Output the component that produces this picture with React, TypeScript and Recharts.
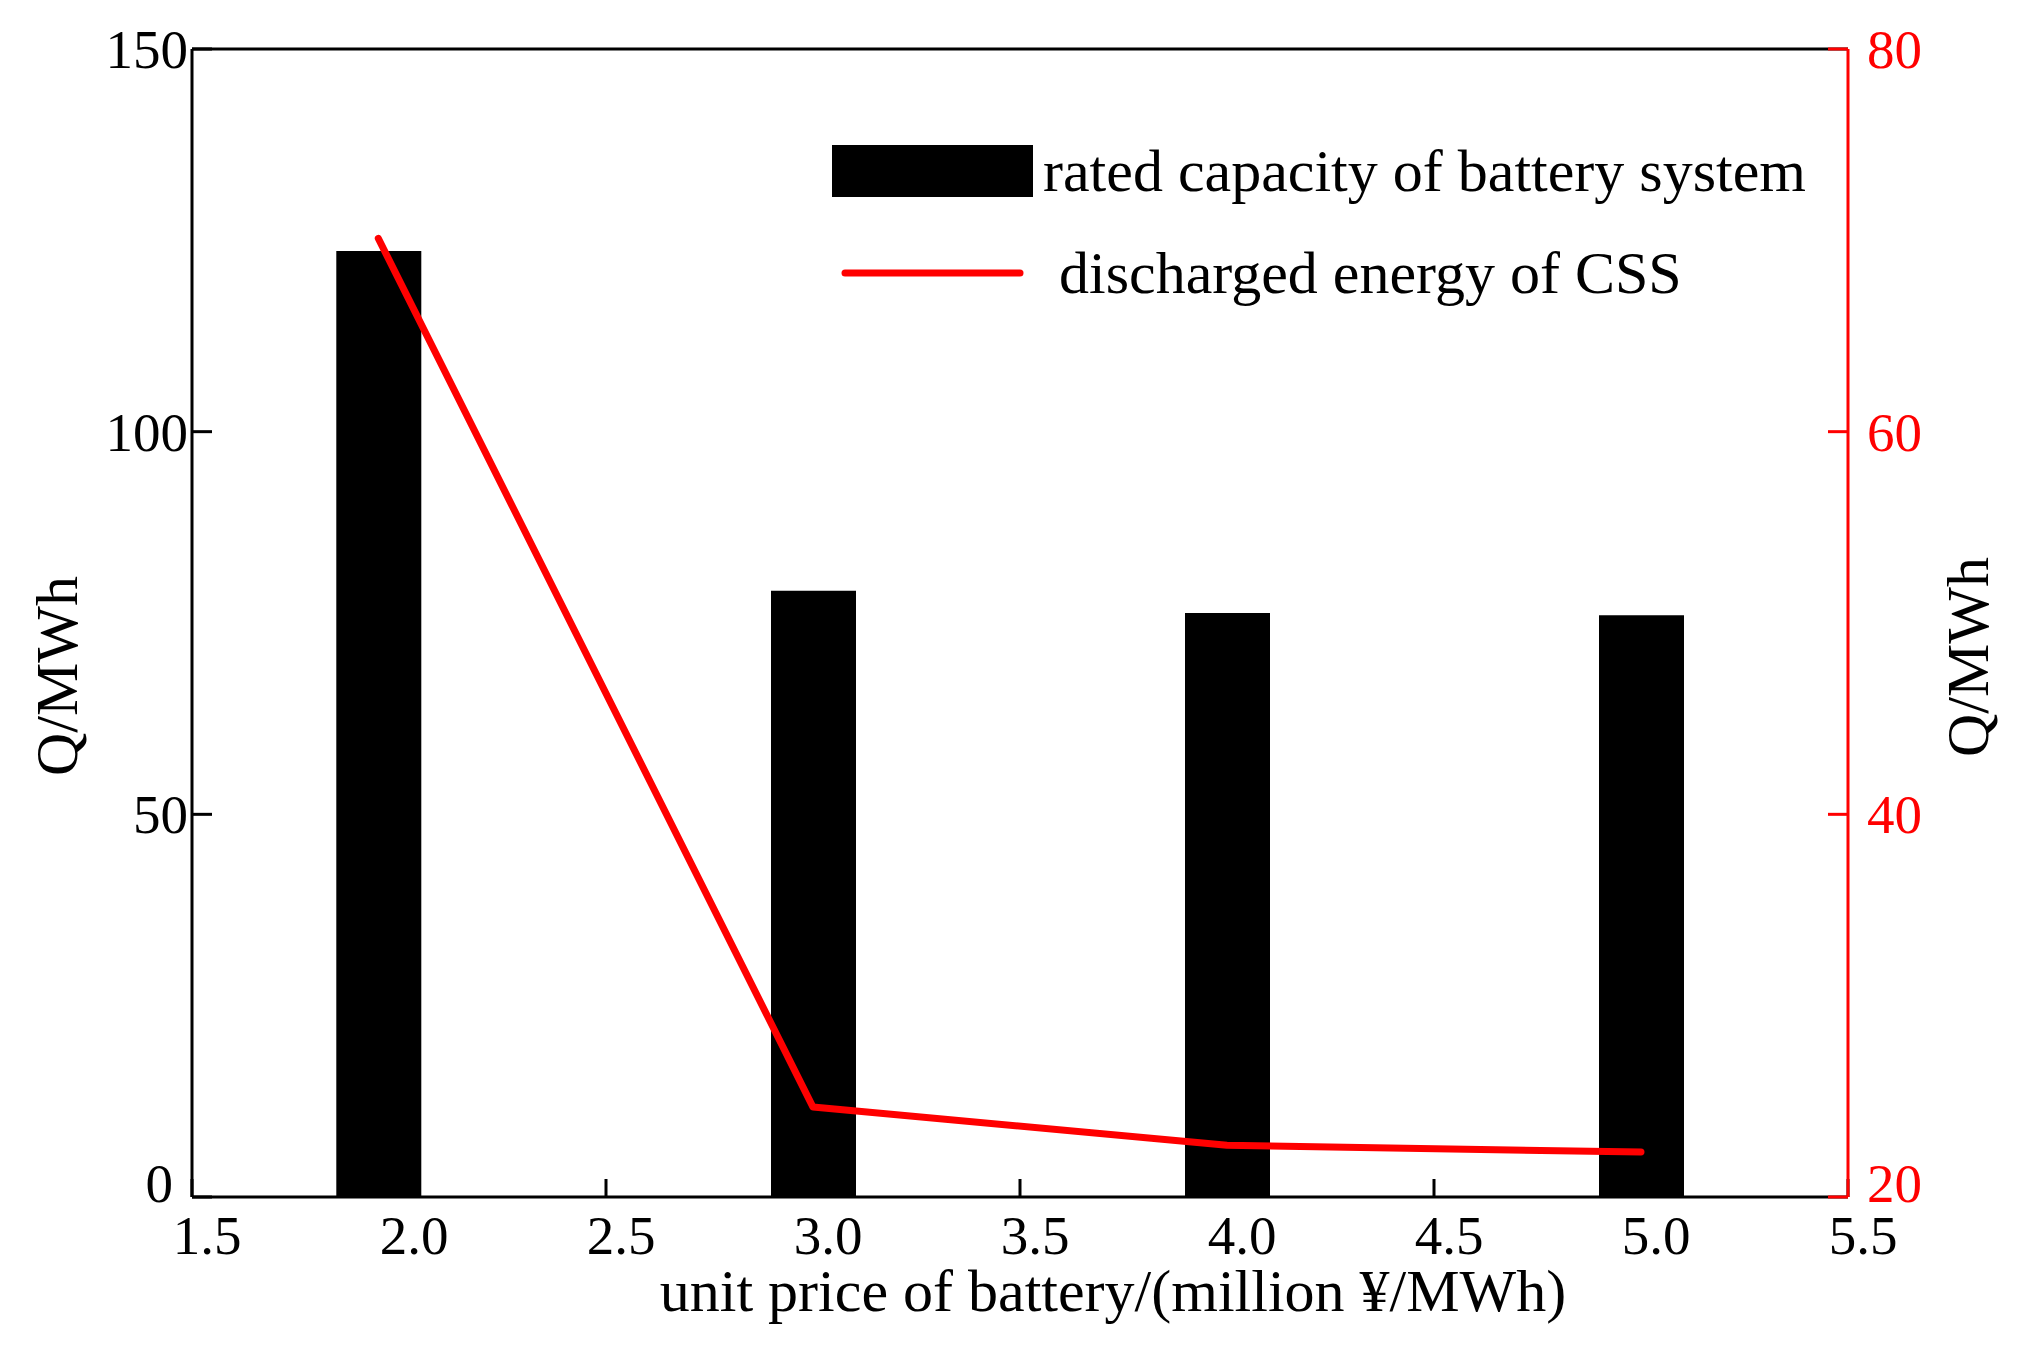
import React from "react";
import {
  Bar,
  ComposedChart,
  Legend,
  Line,
  XAxis,
  YAxis,
} from "recharts";

// unit price of battery (million ¥/MWh)
const prices = [1.95, 3.0, 4.0, 5.0];
// rated capacity of battery system, MWh (left axis)
const ratedCapacity = [123.6, 79.2, 76.3, 76.0];
// discharged energy of CSS, MWh (right axis)
const dischargedEnergy = [70.1, 24.7, 22.7, 22.35];

const xTicks = [1.5, 2.0, 2.5, 3.0, 3.5, 4.0, 4.5, 5.0, 5.5];
const leftTicks = [0, 50, 100, 150];
const rightTicks = [20, 40, 60, 80];

const data = prices.map((price, i) => ({
  price,
  capacity: ratedCapacity[i],
  energy: dischargedEnergy[i],
}));

const FONT = "'Liberation Serif', 'DejaVu Serif', serif";
const RED = "#ff0000";

type TickProps = { x: number; y: number; payload: { value: number } };

function makeTick(
  fill: string,
  anchor: "start" | "middle" | "end",
  dx: number,
  dy: number,
  fmt: (v: number) => string,
  lowest?: number,
  lowestDx = 0,
) {
  return (props: TickProps) => {
    const { x, y, payload } = props;
    // matlab nudges the lowest y label up (and sideways) a bit
    const isLowest = lowest !== undefined && payload.value === lowest;
    return (
      <text
        x={x + dx + (isLowest ? lowestDx : 0)}
        y={y + dy + (isLowest ? -14 : 0)}
        fill={fill}
        textAnchor={anchor}
        fontSize={55}
        fontFamily={FONT}
      >
        {fmt(payload.value)}
      </text>
    );
  };
}

function renderLegend({ payload }: any) {
  // bar patch first, then the line, like the original figure
  const items = [...(payload || [])].sort(
    (a: any, b: any) => (a.type === "line" ? 1 : 0) - (b.type === "line" ? 1 : 0),
  );
  return (
    <div style={{ fontFamily: FONT, fontSize: 60, lineHeight: 1, color: "#000" }}>
      {items.map((entry: any, i: number) => {
        const isLine = entry.type === "line";
        return (
          <div
            key={entry.value}
            style={{
              display: "flex",
              alignItems: "center",
              height: 60,
              marginTop: i === 0 ? 0 : 42,
              whiteSpace: "nowrap",
            }}
          >
            {isLine ? (
              <svg width={227} height={60}>
                <line x1={13} y1={30} x2={188} y2={30} stroke={entry.color} strokeWidth={7} strokeLinecap="round" />
              </svg>
            ) : (
              <svg width={211} height={60}>
                <rect x={0} y={4} width={201} height={52} fill={entry.color} />
              </svg>
            )}
            <span>{entry.value}</span>
          </div>
        );
      })}
    </div>
  );
}

export default function App() {
  return (
    <div style={{ position: "absolute", left: 0, top: 0, width: 2019, height: 1349, background: "#fff" }}>
      <ComposedChart
        width={2019}
        height={1349}
        data={data}
        margin={{ top: 48, right: 51, bottom: 52, left: 62 }}
      >
        <XAxis
          xAxisId="top"
          orientation="top"
          type="number"
          dataKey="price"
          domain={[1.5, 5.5]}
          ticks={xTicks}
          height={1}
          tick={false}
          tickSize={-18}
          axisLine={{ stroke: "#000", strokeWidth: 3 }}
          tickLine={{ stroke: "#000", strokeWidth: 3 }}
        />
        <XAxis
          type="number"
          dataKey="price"
          domain={[1.5, 5.5]}
          ticks={xTicks}
          height={100}
          tickSize={-18}
          tickMargin={18}
          axisLine={{ stroke: "#000", strokeWidth: 3 }}
          tickLine={{ stroke: "#000", strokeWidth: 3 }}
          tick={makeTick("#000", "middle", 15, 57, (v) => v.toFixed(1))}
          label={() => (
            <text x={1113} y={1311} textAnchor="middle" fontSize={60} fontFamily={FONT} fill="#000">
              unit price of battery/(million ¥/MWh)
            </text>
          )}
        />
        <YAxis
          yAxisId="left"
          orientation="left"
          domain={[0, 150]}
          ticks={leftTicks}
          width={130}
          tickSize={-20}
          tickMargin={20}
          axisLine={{ stroke: "#000", strokeWidth: 3 }}
          tickLine={{ stroke: "#000", strokeWidth: 3 }}
          tick={makeTick("#000", "end", -4, 19, (v) => String(v), 0, -15)}
          label={() => (
            <text
              x={77}
              y={676}
              transform="rotate(-90 77 676)"
              textAnchor="middle"
              fontSize={60}
              fontFamily={FONT}
              fill="#000"
            >
              Q/MWh
            </text>
          )}
        />
        <YAxis
          yAxisId="right"
          orientation="right"
          domain={[20, 80]}
          ticks={rightTicks}
          width={120}
          tickSize={-20}
          tickMargin={20}
          axisLine={{ stroke: RED, strokeWidth: 3 }}
          tickLine={{ stroke: RED, strokeWidth: 3 }}
          tick={makeTick(RED, "start", 19, 19, (v) => String(v), 20)}
          label={() => (
            <text
              x={1988}
              y={657}
              transform="rotate(-90 1988 657)"
              textAnchor="middle"
              fontSize={60}
              fontFamily={FONT}
              fill="#000"
            >
              Q/MWh
            </text>
          )}
        />
        <Bar
          yAxisId="left"
          dataKey="capacity"
          name="rated capacity of battery system"
          fill="#000"
          barSize={85}
          isAnimationActive={false}
        />
        <Line
          yAxisId="right"
          dataKey="energy"
          name="discharged energy of CSS"
          type="linear"
          stroke={RED}
          strokeWidth={7}
          strokeLinecap="round"
          strokeLinejoin="round"
          dot={false}
          activeDot={false}
          isAnimationActive={false}
        />
        <Legend
          layout="vertical"
          align="center"
          verticalAlign="middle"
          wrapperStyle={{ left: 832, top: 141, width: 1100, bottom: "auto", right: "auto" }}
          content={renderLegend}
        />
      </ComposedChart>
    </div>
  );
}
